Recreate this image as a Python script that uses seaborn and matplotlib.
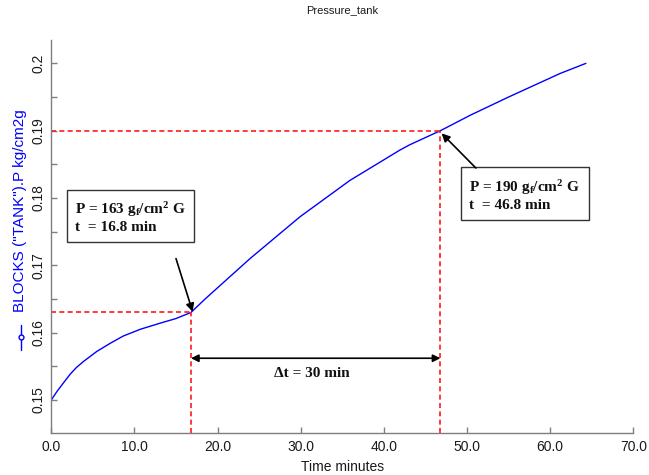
import numpy as np
import pandas as pd
import seaborn as sns
import matplotlib
matplotlib.use("Agg")
import matplotlib.pyplot as plt
from matplotlib.lines import Line2D

# ---- data ----
time_min = [0.0, 0.7, 1.44, 2.25, 3.0, 3.85, 5.46, 7.06, 8.66, 10.7, 13.07, 15.0, 16.8,
            18.5, 20.3, 23.9, 29.9, 35.9, 41.9, 43.1, 46.8, 50.4, 55.0, 61.2, 64.3]
pressure = [0.1500, 0.1513, 0.1525, 0.1538, 0.1548, 0.1557, 0.1572, 0.1584, 0.1595,
            0.1605, 0.1614, 0.1621, 0.1630, 0.1650, 0.1670, 0.1710, 0.1772, 0.1826,
            0.1871, 0.1879, 0.1900, 0.1923, 0.1950, 0.1985, 0.2000]
mark_t = [16.8, 46.8]
mark_p = [0.163, 0.190]
mark_g = [163, 190]
delta_t = 30
x_ticks = [0, 10, 20, 30, 40, 50, 60, 70]
x_ticklabels = ["0.0", "10.0", "20.0", "30.0", "40.0", "50.0", "60.0", "70.0"]
y_ticks = [0.15, 0.16, 0.17, 0.18, 0.19, 0.2]
y_ticklabels = ["0.15", "0.16", "0.17", "0.18", "0.19", "0.2"]
y_minor = [0.155, 0.165, 0.175, 0.185, 0.195]

sns.set_theme(style="ticks")
plt.rcParams["font.family"] = ["Liberation Sans", "DejaVu Sans"]
plt.rcParams["mathtext.fontset"] = "custom"
plt.rcParams["mathtext.rm"] = "Liberation Serif:bold"
plt.rcParams["mathtext.it"] = "Liberation Serif:bold"
plt.rcParams["mathtext.bf"] = "Liberation Serif:bold"

W, H = 649, 475
fig = plt.figure(figsize=(W / 100, H / 100), dpi=100)
ax = fig.add_axes([51.3 / W, 1 - 433.3 / H, (633.3 - 51.3) / W, (433.3 - 40) / H])

df = pd.DataFrame({"t": time_min, "p": pressure})
sns.lineplot(data=df, x="t", y="p", ax=ax, color="#0000ff", lw=1.0)

ax.set_xlim(0, 70)
ax.set_ylim(0.14505, 0.20347)

grey = "#7f7f7f"
for s in ["top", "right"]:
    ax.spines[s].set_visible(False)
for s in ["left", "bottom"]:
    ax.spines[s].set_color(grey)
    ax.spines[s].set_linewidth(1.0)

ax.set_xticks(x_ticks)
ax.set_xticklabels(x_ticklabels, fontsize=10, color="#1a1a1a")
ax.set_yticks(y_ticks)
ax.set_yticklabels(y_ticklabels, fontsize=10, color="#1a1a1a", rotation=90, va="center")
ax.set_yticks(y_minor, minor=True)
ax.tick_params(axis="both", which="both", direction="in", length=4, color=grey, width=1.0)
ax.tick_params(axis="x", pad=5)
ax.tick_params(axis="y", pad=4)

ax.set_xlabel("Time minutes", fontsize=10, labelpad=4, color="#1a1a1a")
ax.set_ylabel("")
ax.set_title("Pressure_tank", fontsize=8, pad=19, color="#1a1a1a")

# y label with legend-like marker line
fig.text(20 / W, 1 - 211 / H, 'BLOCKS ("TANK").P kg/cm2g', rotation=90,
         ha="center", va="center", color="#0000ff", fontsize=11)
fig.add_artist(Line2D([21 / W, 21 / W], [1 - 350 / H, 1 - 325 / H], color="#0000ff", lw=1.0))
fig.add_artist(Line2D([21 / W], [1 - 337 / H], color="#0000ff", marker="o", markersize=3.5,
                      markerfacecolor="white", lw=0))

# red dashed guide lines
y0 = ax.get_ylim()[0]
for tt, pp in zip(mark_t, mark_p):
    ax.plot([0, tt], [pp, pp], color="#ff1a1a", lw=1.2, linestyle=(0, (3, 2)))
    ax.plot([tt, tt], [y0, pp], color="#ff1a1a", lw=1.2, linestyle=(0, (3, 2)))

# delta t arrow
ax.annotate("", xy=(mark_t[1], 0.1562), xytext=(mark_t[0], 0.1562),
            arrowprops=dict(arrowstyle="<|-|>", color="black", lw=1.2,
                            mutation_scale=11, shrinkA=0, shrinkB=0))
ax.text(31.3, 0.1540, "Δt = %d min" % delta_t, ha="center", va="center",
        family="Liberation Serif", fontweight="bold", fontsize=11, color="#111111")

# annotation boxes
box = dict(boxstyle="square,pad=0.55", fc="white", ec="#333333", lw=1.0)
ax.text(2.85, 0.17717, "P = %d g$_{\\rm f}$/cm$^{2}$ G\nt  = %.1f min" % (mark_g[0], mark_t[0]),
        ha="left", va="center", family="Liberation Serif", fontweight="bold",
        fontsize=11, color="#111111", bbox=box, linespacing=1.2)
ax.text(50.28, 0.1805, "P = %d g$_{\\rm f}$/cm$^{2}$ G\nt  = %.1f min" % (mark_g[1], mark_t[1]),
        ha="left", va="center", family="Liberation Serif", fontweight="bold",
        fontsize=11, color="#111111", bbox=box, linespacing=1.2)

ax.annotate("", xy=(17.0, 0.1631), xytext=(15.0, 0.1710),
            arrowprops=dict(arrowstyle="-|>", color="black", lw=1.2,
                            mutation_scale=12, shrinkA=0, shrinkB=0))
ax.annotate("", xy=(46.95, 0.1896), xytext=(51.07, 0.18445),
            arrowprops=dict(arrowstyle="-|>", color="black", lw=1.2,
                            mutation_scale=12, shrinkA=0, shrinkB=0))

fig.savefig("out.png", dpi=100)
